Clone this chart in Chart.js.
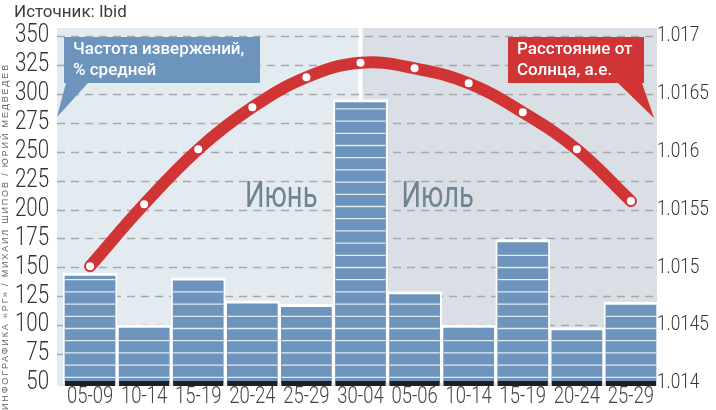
<!DOCTYPE html>
<html>
<head>
<meta charset="utf-8">
<script src="https://cdn.jsdelivr.net/npm/chart.js@4/dist/chart.umd.min.js"></script>
<style>
  html, body { margin: 0; padding: 0; background: #fff; }
  #wrap { width: 716px; height: 410px; position: relative; }
</style>
</head>
<body>
<div id="wrap"><canvas id="eruptionsChart"></canvas></div>
<script>
// данные графика
const periods = ['05-09', '10-14', '15-19', '20-24', '25-29', '30-04', '05-06', '10-14', '15-19', '20-24', '25-29'];
const eruptions = [145, 100, 141, 121, 118, 295, 129, 100, 174, 98, 120];
const sunDistance = [1.01501, 1.015545, 1.01602, 1.016383, 1.016643, 1.016769, 1.016721, 1.016591, 1.01634, 1.01602, 1.015573];
const leftTicks = ['50', '75', '100', '125', '150', '175', '200', '225', '250', '275', '300', '325', '350'];
const rightTicks = ['1.014', '1.0145', '1.015', '1.0155', '1.016', '1.0165', '1.017'];
const months = ['Июнь', 'Июль'];
const sourceText = 'Источник: Ibid';
const creditText = 'ИНФОГРАФИКА «РГ» / МИХАИЛ ШИПОВ / ЮРИЙ МЕДВЕДЕВ';
const eruptionsTitle = ['Частота извержений,', '% средней'];
const distanceTitle = ['Расстояние от', 'Солнца, а.е.'];

const sans = "Roboto, 'Noto Sans', sans-serif";
const blue = '#6d94bc';
const red = '#d13434';

// узкий шрифт: сжимаем Roboto по горизонтали
function condensed(ctx, text, x, y, align, font, color, k) {
  ctx.save();
  ctx.font = font;
  ctx.fillStyle = color;
  ctx.textBaseline = 'middle';
  ctx.textAlign = align;
  ctx.translate(x, y);
  ctx.scale(k, 1);
  ctx.fillText(text, 0, 0);
  ctx.restore();
}

// фон двух месяцев, пунктирная сетка, подписи месяцев
const panels = {
  id: 'panels',
  beforeDraw(chart) {
    const { ctx, chartArea: { left, right, top, bottom }, scales: { x } } = chart;
    const mid = x.getPixelForValue(5);
    ctx.save();
    ctx.fillStyle = '#e3eaf0';
    ctx.fillRect(left - 6, top - 8, mid - 2 - (left - 6), bottom + 3 - (top - 8));
    ctx.fillStyle = '#d9dfe5';
    ctx.fillRect(mid + 2, top - 8, right - 1 - (mid + 2), bottom + 3 - (top - 8));
    ctx.restore();
  },
  beforeDatasetsDraw(chart) {
    const { ctx, chartArea: { left, right }, scales: { x, y } } = chart;
    ctx.save();
    ctx.strokeStyle = '#a6a9ac';
    ctx.lineWidth = 1.5;
    ctx.setLineDash([8, 6]);
    y.ticks.forEach((t) => {
      if (t.value <= y.min) return;
      const py = Math.round(y.getPixelForValue(t.value)) + 0.5;
      ctx.beginPath();
      ctx.moveTo(left - 6, py);
      ctx.lineTo(right, py);
      ctx.stroke();
    });
    ctx.restore();
    const mid = x.getPixelForValue(5);
    const f = `36px ${sans}`;
    condensed(ctx, months[0], mid - 43, 198, 'right', f, '#6f8391', 0.76);
    condensed(ctx, months[1], mid + 41, 198, 'left', f, '#6f8391', 0.76);
  },
};

// белые полосы на столбцах и чёрная основа
const barStripes = {
  id: 'barStripes',
  afterDatasetDraw(chart, args) {
    if (args.meta.type !== 'bar') return;
    const { ctx } = chart;
    const base = chart.scales.y.getPixelForValue(50);
    ctx.save();
    args.meta.data.forEach((bar) => {
      const x0 = bar.x - bar.width / 2 + 2;
      const x1 = bar.x + bar.width / 2 - 2;
      ctx.strokeStyle = 'rgba(255,255,255,0.8)';
      ctx.lineWidth = 1.3;
      for (let py = base - 5.7; py > bar.y + 6; py -= 12.2) {
        ctx.beginPath();
        ctx.moveTo(x0, py);
        ctx.lineTo(x1, py);
        ctx.stroke();
      }
      ctx.fillStyle = '#231f20';
      ctx.fillRect(x0, base - 2, x1 - x0, 5);
    });
    ctx.restore();
  },
};

// подписи осей рисуем сами, по тикам шкал
const axisLabels = {
  id: 'axisLabels',
  afterDraw(chart) {
    const { ctx, chartArea: { left, right, bottom }, scales: { x, y, y1 } } = chart;
    y.ticks.forEach((t) => {
      const txt = leftTicks.find((s) => +s === t.value);
      if (txt) condensed(ctx, txt, left - 14, y.getPixelForValue(t.value), 'right', `300 25px ${sans}`, '#333', 0.82);
    });
    y1.ticks.forEach((t) => {
      const txt = rightTicks.find((s) => Math.abs(+s - t.value) < 1e-7);
      if (txt) condensed(ctx, txt, right - 1, y1.getPixelForValue(t.value), 'left', `300 21px ${sans}`, '#333', 0.82);
    });
    periods.forEach((p, i) => {
      condensed(ctx, p, x.getPixelForValue(i), bottom + 14, 'center', `300 24px ${sans}`, '#444', 0.77);
    });
  },
};

function callout(ctx, box, tail, color, lines) {
  ctx.fillStyle = color;
  ctx.fillRect(box[0], box[1], box[2], box[3]);
  ctx.beginPath();
  ctx.moveTo(tail[0][0], tail[0][1]);
  ctx.lineTo(tail[1][0], tail[1][1]);
  ctx.lineTo(tail[2][0], tail[2][1]);
  ctx.closePath();
  ctx.fill();
  ctx.fillStyle = '#fff';
  ctx.font = `500 17px ${sans}`;
  ctx.textAlign = 'left';
  ctx.textBaseline = 'middle';
  lines.forEach((l, i) => ctx.fillText(l, box[0] + 9, box[1] + 13 + i * 21));
}

const labels = {
  id: 'labels',
  afterDraw(chart) {
    const { ctx } = chart;
    ctx.save();
    ctx.fillStyle = '#3c3c3c';
    ctx.font = `17px ${sans}`;
    ctx.textBaseline = 'middle';
    ctx.fillText(sourceText, 14, 13);

    callout(ctx, [64, 37, 196, 46], [[66, 83], [88, 83], [57, 117]], blue, eruptionsTitle);
    callout(ctx, [508, 37, 136, 46], [[618, 83], [642, 83], [654, 118]], red, distanceTitle);

    ctx.translate(8, 410);
    ctx.rotate(-Math.PI / 2);
    ctx.font = `9px 'Liberation Sans', sans-serif`;
    const w = ctx.measureText(creditText).width;
    ctx.letterSpacing = `${(347 - w) / creditText.length}px`;
    ctx.fillStyle = '#666';
    ctx.textAlign = 'left';
    ctx.textBaseline = 'alphabetic';
    ctx.fillText(creditText, 0, 0);
    ctx.restore();
  },
};

new Chart(document.getElementById('eruptionsChart'), {
  data: {
    labels: periods,
    datasets: [
      {
        type: 'line',
        data: sunDistance,
        yAxisID: 'y1',
        borderColor: red,
        borderWidth: 12,
        tension: 0.4,
        borderCapStyle: 'round',
        borderJoinStyle: 'round',
        pointRadius: 4,
        pointBackgroundColor: '#fff',
        pointBorderWidth: 0,
        clip: false,
        order: 0,
      },
      {
        type: 'bar',
        data: eruptions,
        yAxisID: 'y',
        backgroundColor: blue,
        borderColor: '#fff',
        borderWidth: { top: 3, left: 2, right: 2, bottom: 0 },
        barPercentage: 1,
        categoryPercentage: 1,
        order: 1,
      },
    ],
  },
  options: {
    responsive: true,
    maintainAspectRatio: false,
    animation: false,
    layout: { padding: { top: 36, left: 0, right: 0, bottom: 0 } },
    plugins: { legend: { display: false }, tooltip: { enabled: false } },
    scales: {
      x: {
        grid: { display: false },
        border: { display: false },
        afterFit: (s) => { s.height = 27; },
        ticks: { display: false },
      },
      y: {
        position: 'left',
        min: 50,
        max: 350,
        grid: { display: false },
        border: { display: false },
        afterFit: (s) => { s.width = 63; },
        ticks: { display: false, stepSize: 25, autoSkip: false },
      },
      y1: {
        position: 'right',
        min: 1.014,
        max: 1.017,
        grid: { display: false },
        border: { display: false },
        afterFit: (s) => { s.width = 58; },
        ticks: { display: false, stepSize: 0.0005, autoSkip: false },
      },
    },
  },
  plugins: [panels, barStripes, axisLabels, labels],
});
</script>
</body>
</html>
